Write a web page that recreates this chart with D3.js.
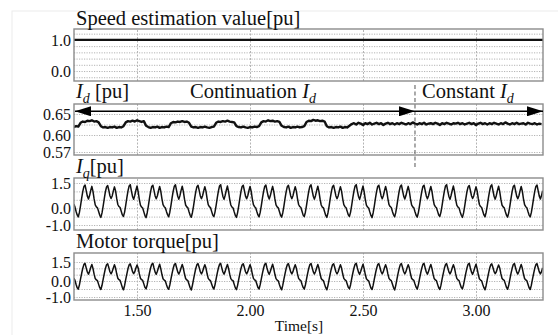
<!DOCTYPE html>
<html>
<head>
<meta charset="utf-8">
<script src="https://cdn.jsdelivr.net/npm/d3@7"></script>
<style>
  html, body { margin: 0; padding: 0; background: #fff; }
  svg { display: block; font-family: "Liberation Serif", "DejaVu Serif", serif; }
</style>
</head>
<body>
<svg id="chart" width="558" height="335"></svg>
<script>
// ---- data ----
const timeDomain = [1.221, 3.2965];
const timeTicks = [1.5, 2.0, 2.5, 3.0];
const timeTickLabels = ['1.50', '2.00', '2.50', '3.00'];
const switchTime = 2.73;          // continuation Id -> constant Id

const speedTimes = [1.221, 3.2965];
const speedValues = [1.0, 1.0];
const speedTicks = [0.0, 1.0];
const speedTickLabels = ['0.0', '1.0'];

const idStart = 1.22, idStep = 0.01;
const idValues = [
  0.619, 0.621, 0.620,
  0.629, 0.632, 0.631, 0.634, 0.633, 0.635, 0.632, 0.633, 0.630,
  0.621, 0.618, 0.619, 0.617, 0.619, 0.618, 0.620, 0.617, 0.619, 0.618, 0.621,
  0.630, 0.633, 0.632, 0.634, 0.632, 0.635, 0.633, 0.631, 0.633,
  0.622, 0.619, 0.617, 0.619, 0.618, 0.620, 0.617, 0.619, 0.618, 0.620, 0.619,
  0.628, 0.631, 0.630, 0.632, 0.631, 0.633, 0.631, 0.632, 0.629,
  0.620, 0.618, 0.619, 0.617, 0.619, 0.618, 0.620, 0.618, 0.617, 0.619, 0.620,
  0.629, 0.632, 0.631, 0.633, 0.632, 0.634, 0.632, 0.631, 0.630,
  0.621, 0.619, 0.618, 0.620, 0.618, 0.617, 0.619, 0.618, 0.620, 0.619, 0.621,
  0.630, 0.633, 0.632, 0.635, 0.633, 0.634, 0.632, 0.633, 0.631,
  0.622, 0.619, 0.618, 0.620, 0.617, 0.619, 0.618, 0.620, 0.618, 0.619, 0.621,
  0.631, 0.634, 0.633, 0.636, 0.634, 0.635, 0.633, 0.634, 0.632,
  0.621, 0.618, 0.619, 0.617, 0.619, 0.618, 0.620, 0.617, 0.619, 0.618, 0.622,
  0.626, 0.628, 0.625, 0.629, 0.627, 0.624, 0.628, 0.626, 0.629, 0.625,
  0.627, 0.629, 0.626, 0.628, 0.624, 0.627, 0.629, 0.626, 0.628, 0.625,
  0.628, 0.626, 0.629, 0.627, 0.625, 0.628, 0.626, 0.630, 0.627, 0.625,
  0.628, 0.626, 0.629, 0.625, 0.627, 0.628, 0.626, 0.629, 0.627, 0.624,
  0.628, 0.626, 0.629, 0.627, 0.625, 0.628, 0.627, 0.629, 0.626, 0.628,
  0.625, 0.627, 0.629, 0.626, 0.628, 0.624, 0.627, 0.629, 0.626, 0.628,
  0.625, 0.628, 0.626, 0.629, 0.627, 0.625, 0.628, 0.626, 0.630, 0.627,
  0.625, 0.628, 0.626, 0.629, 0.626, 0.627, 0.628, 0.625, 0.629, 0.627,
  0.626, 0.628, 0.625, 0.627, 0.626
];
const idTicks = [0.57, 0.60, 0.65];
const idTickLabels = ['0.57', '0.60', '0.65'];
const arrowLevel = 0.6565;

const waveStart = 1.22, waveStep = 0.005;
const iqValues = [
  0.25, 0.08, -0.18, -0.40,
  -0.52,-0.25,0.15,0.60,1.00,1.30,1.38,1.05,0.72,0.55,0.75,1.05,1.30,1.00,0.55,0.20,0.08,0.02,-0.20,-0.42,
  -0.55,-0.28,0.12,0.57,0.98,1.27,1.35,1.07,0.74,0.58,0.73,1.02,1.27,1.03,0.58,0.22,0.10,0.04,-0.18,-0.40,
  -0.49,-0.23,0.18,0.63,1.03,1.32,1.40,1.03,0.70,0.53,0.77,1.07,1.32,0.98,0.53,0.18,0.07,0.01,-0.22,-0.44,
  -0.56,-0.27,0.13,0.58,0.99,1.29,1.37,1.06,0.73,0.56,0.74,1.04,1.29,1.02,0.57,0.21,0.09,0.03,-0.19,-0.39,
  -0.51,-0.24,0.16,0.61,1.01,1.31,1.39,1.04,0.71,0.54,0.76,1.06,1.31,0.99,0.54,0.19,0.08,0.02,-0.21,-0.42,
  -0.54,-0.27,0.13,0.58,0.99,1.28,1.36,1.06,0.73,0.57,0.74,1.03,1.28,1.02,0.57,0.21,0.09,0.04,-0.19,-0.41,
  -0.50,-0.23,0.17,0.62,1.02,1.32,1.40,1.03,0.70,0.53,0.77,1.07,1.32,0.98,0.53,0.19,0.07,0.01,-0.22,-0.43,
  -0.55,-0.26,0.14,0.59,1.00,1.29,1.37,1.05,0.72,0.56,0.74,1.04,1.29,1.01,0.56,0.21,0.09,0.03,-0.20,-0.40,
  -0.52,-0.25,0.15,0.60,1.00,1.30,1.38,1.05,0.72,0.55,0.75,1.05,1.30,1.00,0.55,0.20,0.08,0.02,-0.20,-0.42,
  -0.53,-0.27,0.13,0.58,0.99,1.28,1.36,1.06,0.73,0.57,0.74,1.03,1.28,1.02,0.57,0.22,0.10,0.04,-0.18,-0.41,
  -0.50,-0.24,0.17,0.62,1.02,1.31,1.39,1.04,0.71,0.54,0.76,1.06,1.31,0.99,0.54,0.19,0.07,0.02,-0.21,-0.43,
  -0.55,-0.27,0.13,0.58,0.99,1.28,1.36,1.06,0.73,0.57,0.73,1.03,1.28,1.02,0.57,0.21,0.09,0.03,-0.19,-0.40,
  -0.49,-0.23,0.18,0.63,1.03,1.32,1.40,1.03,0.70,0.53,0.77,1.07,1.32,0.98,0.53,0.18,0.07,0.01,-0.22,-0.43,
  -0.56,-0.27,0.13,0.58,0.99,1.29,1.37,1.06,0.73,0.56,0.74,1.04,1.29,1.02,0.57,0.21,0.10,0.04,-0.19,-0.39,
  -0.51,-0.25,0.15,0.60,1.01,1.30,1.38,1.05,0.72,0.55,0.75,1.05,1.30,1.00,0.55,0.20,0.08,0.02,-0.21,-0.42,
  -0.53,-0.26,0.14,0.59,0.99,1.29,1.37,1.06,0.73,0.56,0.74,1.04,1.29,1.01,0.56,0.21,0.09,0.03,-0.19,-0.41,
  -0.49,-0.23,0.17,0.62,1.02,1.32,1.40,1.03,0.70,0.53,0.77,1.07,1.32,0.98,0.53,0.18,0.07,0.01,-0.22,-0.42,
  -0.55,-0.28,0.12,0.57,0.98,1.27,1.35,1.07,0.74,0.58,0.73,1.02,1.27,1.03,0.58,0.22,0.10,0.04,-0.18,-0.40,
  -0.51,-0.24,0.16,0.61,1.01,1.31,1.39,1.04,0.71,0.54,0.76,1.06,1.31,0.99,0.54,0.19,0.08,0.02,-0.21,-0.42,
  -0.53,-0.26,0.14,0.59,1.00,1.29,1.37,1.05,0.72,0.56,0.74,1.04,1.29,1.01,0.56,0.21,0.09,0.03,-0.20,-0.41,
  -0.52,-0.25,0.15,0.60,1.00,1.30,1.38,1.05,0.72,0.55,0.75,1.05
];
const torqueValues = [
  0.22, 0.06, -0.20, -0.42,
  -0.51,-0.24,0.16,0.61,1.01,1.31,1.39,1.04,0.71,0.54,0.76,1.06,1.31,0.99,0.54,0.19,0.08,0.02,-0.21,-0.42,
  -0.53,-0.27,0.13,0.58,0.99,1.28,1.36,1.06,0.73,0.57,0.74,1.03,1.28,1.02,0.57,0.22,0.10,0.04,-0.18,-0.41,
  -0.55,-0.28,0.12,0.57,0.98,1.27,1.35,1.07,0.74,0.58,0.73,1.02,1.27,1.03,0.58,0.22,0.10,0.04,-0.18,-0.40,
  -0.49,-0.23,0.18,0.63,1.03,1.32,1.40,1.03,0.70,0.53,0.77,1.07,1.32,0.98,0.53,0.18,0.07,0.01,-0.22,-0.43,
  -0.52,-0.25,0.15,0.60,1.00,1.30,1.38,1.05,0.72,0.55,0.75,1.05,1.30,1.00,0.55,0.20,0.08,0.02,-0.20,-0.42,
  -0.56,-0.27,0.13,0.58,0.99,1.29,1.37,1.06,0.73,0.56,0.74,1.04,1.29,1.02,0.57,0.21,0.09,0.03,-0.19,-0.39,
  -0.50,-0.24,0.17,0.62,1.02,1.31,1.39,1.04,0.71,0.54,0.76,1.06,1.31,0.99,0.54,0.19,0.07,0.02,-0.21,-0.43,
  -0.54,-0.27,0.13,0.58,0.99,1.28,1.36,1.06,0.73,0.57,0.74,1.03,1.28,1.02,0.57,0.21,0.09,0.04,-0.19,-0.41,
  -0.50,-0.23,0.17,0.62,1.02,1.32,1.40,1.03,0.70,0.53,0.77,1.07,1.32,0.98,0.53,0.19,0.07,0.01,-0.22,-0.43,
  -0.55,-0.26,0.14,0.59,1.00,1.29,1.37,1.05,0.72,0.56,0.74,1.04,1.29,1.01,0.56,0.21,0.09,0.03,-0.20,-0.40,
  -0.51,-0.25,0.15,0.60,1.01,1.30,1.38,1.05,0.72,0.55,0.75,1.05,1.30,1.00,0.55,0.20,0.08,0.02,-0.21,-0.42,
  -0.55,-0.27,0.13,0.58,0.99,1.28,1.36,1.06,0.73,0.57,0.73,1.03,1.28,1.02,0.57,0.21,0.09,0.03,-0.19,-0.40,
  -0.49,-0.23,0.18,0.63,1.03,1.32,1.40,1.03,0.70,0.53,0.77,1.07,1.32,0.98,0.53,0.18,0.07,0.01,-0.22,-0.44,
  -0.53,-0.26,0.14,0.59,0.99,1.29,1.37,1.06,0.73,0.56,0.74,1.04,1.29,1.01,0.56,0.21,0.09,0.03,-0.19,-0.41,
  -0.56,-0.27,0.13,0.58,0.99,1.29,1.37,1.06,0.73,0.56,0.74,1.04,1.29,1.02,0.57,0.21,0.10,0.04,-0.19,-0.39,
  -0.51,-0.24,0.16,0.61,1.01,1.31,1.39,1.04,0.71,0.54,0.76,1.06,1.31,0.99,0.54,0.19,0.08,0.02,-0.21,-0.42,
  -0.53,-0.26,0.14,0.59,1.00,1.29,1.37,1.05,0.72,0.56,0.74,1.04,1.29,1.01,0.56,0.21,0.09,0.03,-0.20,-0.41,
  -0.49,-0.23,0.17,0.62,1.02,1.32,1.40,1.03,0.70,0.53,0.77,1.07,1.32,0.98,0.53,0.18,0.07,0.01,-0.22,-0.42,
  -0.55,-0.28,0.12,0.57,0.98,1.27,1.35,1.07,0.74,0.58,0.73,1.02,1.27,1.03,0.58,0.22,0.10,0.04,-0.18,-0.40,
  -0.52,-0.25,0.15,0.60,1.00,1.30,1.38,1.05,0.72,0.55,0.75,1.05,1.30,1.00,0.55,0.20,0.08,0.02,-0.20,-0.42,
  -0.53,-0.26,0.14,0.59,1.00,1.29,1.37,1.05,0.72,0.56,0.74,1.04
];
const waveTicks = [-1.0, 0.0, 1.5];
const waveTickLabels = ['-1.0', '0.0', '1.5'];

// ---- layout ----
const FONT = '"Liberation Serif", "DejaVu Serif", serif';
const LEFT = 74, RIGHT = 543;
const FONT_TITLE = 20.5, FONT_TICK = 16;

const toPoints = (start, step, vals) => vals.map((v, i) => ({ t: start + i * step, v }));

const panels = [
  { id: 'speed', top: 29, bottom: 81,
    y: d3.scaleLinear().domain([-0.32, 1.35]).range([81, 29]),
    grid: [-0.2, 0, 0.2, 0.4, 0.6, 0.8, 1.0, 1.2],
    ticks: speedTicks, labels: speedTickLabels,
    points: speedTimes.map((t, i) => ({ t, v: speedValues[i] })), width: 2.2 },
  { id: 'id', top: 104, bottom: 155,
    // the scope's Id scale is not uniform: keep its printed ticks where they were
    y: d3.scaleLinear().domain([0.57, 0.60, 0.65]).range([152, 135, 114]),
    grid: [0.57, 0.60, 0.625, 0.65],
    ticks: idTicks, labels: idTickLabels,
    points: toPoints(idStart, idStep, idValues), width: 2.4 },
  { id: 'iq', top: 178, bottom: 230,
    y: d3.scaleLinear().domain([-1.0, 1.5]).range([225, 183]),
    grid: [-1.0, -0.5, 0, 0.5, 1.0, 1.5],
    ticks: waveTicks, labels: waveTickLabels,
    points: toPoints(waveStart, waveStep, iqValues), width: 1.5 },
  { id: 'tq', top: 253, bottom: 300,
    // same story for the torque trace: printed ticks sit at 262 / 281 / 297 px
    y: d3.scaleLinear().domain([-1.0, 0.0, 1.5]).range([297, 281, 262]),
    grid: [-1.0, -0.5, 0, 0.5, 1.0, 1.5],
    ticks: waveTicks, labels: waveTickLabels,
    points: toPoints(waveStart, waveStep, torqueValues), width: 1.5 }
];

const svg = d3.select('#chart');
const x = d3.scaleLinear().domain(timeDomain).range([LEFT, RIGHT]);

// faint outer frame of the figure
svg.append('rect')
  .attr('x', 12).attr('y', 11).attr('width', 560).attr('height', 340)
  .attr('fill', 'none').attr('stroke', '#ececec').attr('stroke-width', 1);

const defs = svg.append('defs');
defs.append('marker')
  .attr('id', 'head')
  .attr('viewBox', '0 0 16 10')
  .attr('refX', 16).attr('refY', 5)
  .attr('markerUnits', 'userSpaceOnUse')
  .attr('markerWidth', 17).attr('markerHeight', 10)
  .attr('orient', 'auto-start-reverse')
  .append('path').attr('d', 'M0,0 L16,5 L0,10 Z').attr('fill', '#000');

panels.forEach(p => {
  const y = p.y;
  const g = svg.append('g').attr('class', 'panel-' + p.id);

  defs.append('clipPath').attr('id', 'clip-' + p.id)
    .append('rect')
    .attr('x', LEFT).attr('y', p.top)
    .attr('width', RIGHT - LEFT).attr('height', p.bottom - p.top);

  // dotted grid
  g.append('g')
    .attr('transform', `translate(${LEFT},0)`)
    .call(d3.axisLeft(y).tickValues(p.grid).tickSize(-(RIGHT - LEFT)).tickFormat(''))
    .call(a => a.select('.domain').remove())
    .call(a => a.selectAll('line').attr('stroke', '#b4b4b4').attr('stroke-dasharray', '1.2,1.3'));
  g.append('g')
    .attr('transform', `translate(0,${p.bottom})`)
    .call(d3.axisBottom(x).tickValues(timeTicks).tickSize(-(p.bottom - p.top)).tickFormat(''))
    .call(a => a.select('.domain').remove())
    .call(a => a.selectAll('line').attr('stroke', '#b4b4b4').attr('stroke-dasharray', '2,1.5'));

  // signal
  g.append('path')
    .datum(p.points)
    .attr('clip-path', `url(#clip-${p.id})`)
    .attr('fill', 'none')
    .attr('stroke', '#111')
    .attr('stroke-width', p.width)
    .attr('stroke-linejoin', 'round')
    .attr('d', d3.line().x(d => x(d.t)).y(d => y(d.v)));

  // frame
  g.append('rect')
    .attr('x', LEFT).attr('y', p.top)
    .attr('width', RIGHT - LEFT).attr('height', p.bottom - p.top)
    .attr('fill', 'none').attr('stroke', '#8c8c8c').attr('stroke-width', 1.4);

  // y tick labels
  g.append('g')
    .attr('transform', `translate(${LEFT},0)`)
    .call(d3.axisLeft(y).tickValues(p.ticks).tickSize(0).tickPadding(3)
      .tickFormat((d, i) => p.labels[i]))
    .call(a => a.select('.domain').remove())
    .call(a => a.attr('font-family', FONT))
    .call(a => a.selectAll('text')
      .attr('font-family', FONT)
      .attr('font-size', FONT_TICK).attr('fill', '#111'));
});

// x tick labels under the last panel
const last = panels[panels.length - 1];
svg.append('g')
  .attr('transform', `translate(0,${last.bottom})`)
  .call(d3.axisBottom(x).tickValues(timeTicks).tickSize(0).tickPadding(5)
    .tickFormat((d, i) => timeTickLabels[i]))
  .call(a => a.select('.domain').remove())
  .call(a => a.attr('font-family', FONT))
  .call(a => a.selectAll('text')
    .attr('font-family', FONT)
    .attr('font-size', 16).attr('fill', '#111'));

svg.append('text')
  .attr('x', 299).attr('y', 331)
  .attr('text-anchor', 'middle')
  .attr('font-family', FONT)
  .attr('font-size', 15.5).attr('fill', '#111')
  .text('Time[s]');

// panel titles
function subLabel(sel, base, sub, rest, size) {
  sel.append('tspan').attr('font-style', 'italic').text(base);
  sel.append('tspan').attr('font-style', 'italic').attr('font-size', size * 0.68)
    .attr('dy', size * 0.22).text(sub);
  sel.append('tspan').attr('dy', -size * 0.22).text(rest);
}
const titleText = (px, py) => svg.append('text')
  .attr('x', px).attr('y', py)
  .attr('font-family', FONT)
  .attr('font-size', FONT_TITLE).attr('fill', '#111');

titleText(76, 25).text('Speed estimation value[pu]');
subLabel(titleText(76, 98), 'I', 'd', ' [pu]', FONT_TITLE);
subLabel(titleText(190, 98).text('Continuation '), 'I', 'd', '', FONT_TITLE);
subLabel(titleText(422, 98).text('Constant '), 'I', 'd', '', FONT_TITLE);
subLabel(titleText(76, 173), 'I', 'q', '[pu]', FONT_TITLE);
titleText(76, 248).text('Motor torque[pu]');

// switch line and the two range arrows in the Id panel
const idPanel = panels[1];
svg.append('line')
  .attr('x1', x(switchTime)).attr('x2', x(switchTime))
  .attr('y1', 85).attr('y2', 168)
  .attr('stroke', '#555').attr('stroke-width', 1).attr('stroke-dasharray', '4,2.5');

svg.append('line')
  .attr('x1', x(timeDomain[0]) + 1).attr('x2', x(switchTime))
  .attr('y1', idPanel.y(arrowLevel)).attr('y2', idPanel.y(arrowLevel))
  .attr('stroke', '#000').attr('stroke-width', 1.6)
  .attr('marker-start', 'url(#head)').attr('marker-end', 'url(#head)');
svg.append('line')
  .attr('x1', x(switchTime)).attr('x2', x(timeDomain[1]))
  .attr('y1', idPanel.y(arrowLevel)).attr('y2', idPanel.y(arrowLevel))
  .attr('stroke', '#000').attr('stroke-width', 1.6)
  .attr('marker-end', 'url(#head)');
</script>
</body>
</html>
